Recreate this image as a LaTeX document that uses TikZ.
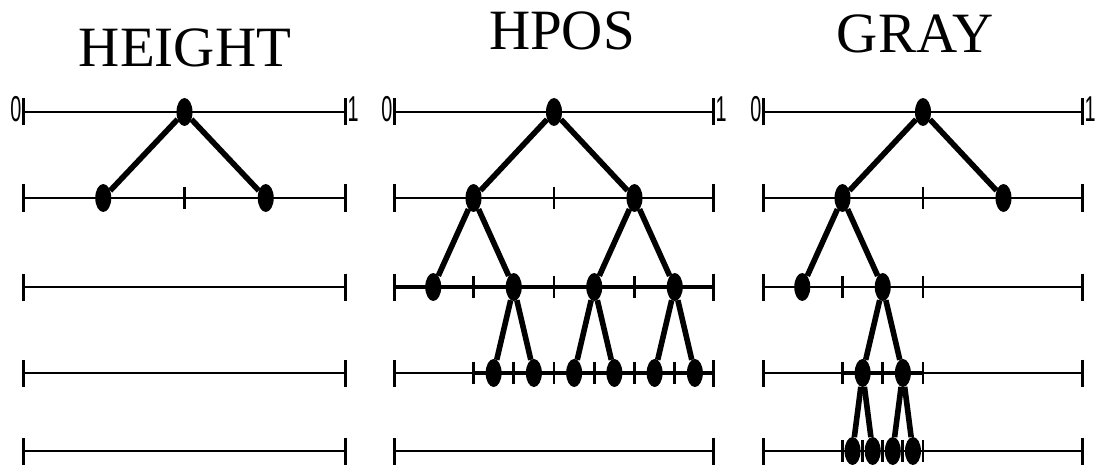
\documentclass[tikz,border=0pt]{standalone}
\usepackage{fontspec}
\setmainfont{Liberation Serif}
\newfontfamily\digitfont{Liberation Sans}
\usetikzlibrary{arrows.meta,shapes.geometric}

\tikzset{
  dot/.style={ellipse,fill=black,inner sep=0pt,minimum width=16pt,minimum height=28pt},
  branch/.style={line width=5.6pt},
  axisline/.style={line width=2.6pt,{Bar[width=27pt,line width=3.2pt]}-{Bar[width=27pt,line width=3.2pt]}},
  overlap/.style={line width=4.2pt},
  tick/.style={line width=2.8pt},
  title/.style={font=\fontsize{57}{60}\selectfont,anchor=base,inner sep=0pt},
  endlabel/.style={font=\digitfont\fontsize{36}{36}\selectfont,xscale=0.55,inner sep=1pt}
}

\begin{document}
\begin{tikzpicture}[x=1pt,y=-1pt]
  \useasboundingbox (0,0) rectangle (1101,468);
  \def\rA{112} \def\rB{198} \def\rC{287} \def\rD{373} \def\rE{451}

  % Height
  \node[title] (htitle) at (185,67) {HEIGHT};
  \begin{scope}[xshift=22pt,x=325pt]
    \foreach \r in {\rA,\rB,\rC,\rD,\rE} \draw[axisline] (0,\r) -- (1,\r);
    \node[endlabel,anchor=east] (hzero) at (0,109) {0};
    \node[endlabel,anchor=west] (hone) at (1,109) {1};
    \draw[tick] (0.5,\rB-11) -- (0.5,\rB+11);
    \node[dot] (hA) at (0.5,\rA) {};
    \node[dot] (hB) at (0.25,\rB) {};
    \node[dot] (hC) at (0.75,\rB) {};
    \draw[branch] (hA) -- (hB);
    \draw[branch] (hA) -- (hC);
  \end{scope}

  % Hpos
  \node[title] (ptitle) at (562,50) {HPOS};
  \begin{scope}[xshift=393pt,x=322pt]
    \foreach \r in {\rA,\rB,\rC,\rD,\rE} \draw[axisline] (0,\r) -- (1,\r);
    \draw[overlap] (0,\rC) -- (1,\rC);
    \draw[overlap] (0.25,\rD) -- (1,\rD);
    \node[endlabel,anchor=east] (pzero) at (0,109) {0};
    \node[endlabel,anchor=west] (pone) at (1,109) {1};
    \draw[tick] (0.5,\rB-11) -- (0.5,\rB+11);
    \foreach \t in {0.25,0.5,0.75} \draw[tick] (\t,\rC-11) -- (\t,\rC+11);
    \foreach \t in {0.25,0.375,0.5,0.625,0.75,0.875} \draw[tick] (\t,\rD-11) -- (\t,\rD+11);
    \node[dot] (pA) at (0.5,\rA) {};
    \node[dot] (pB) at (0.25,\rB) {};
    \node[dot] (pC) at (0.75,\rB) {};
    \node[dot] (pD) at (0.125,\rC) {};
    \node[dot] (pE) at (0.375,\rC) {};
    \node[dot] (pF) at (0.625,\rC) {};
    \node[dot] (pG) at (0.875,\rC) {};
    \node[dot] (pH) at (0.3125,\rD) {};
    \node[dot] (pI) at (0.4375,\rD) {};
    \node[dot] (pJ) at (0.5625,\rD) {};
    \node[dot] (pK) at (0.6875,\rD) {};
    \node[dot] (pL) at (0.8125,\rD) {};
    \node[dot] (pM) at (0.9375,\rD) {};
    \draw[branch] (pA) -- (pB);
    \draw[branch] (pA) -- (pC);
    \draw[branch] (pB) -- (pD);
    \draw[branch] (pB) -- (pE);
    \draw[branch] (pC) -- (pF);
    \draw[branch] (pC) -- (pG);
    \draw[branch] (pE) -- (pH);
    \draw[branch] (pE) -- (pI);
    \draw[branch] (pF) -- (pJ);
    \draw[branch] (pF) -- (pK);
    \draw[branch] (pG) -- (pL);
    \draw[branch] (pG) -- (pM);
  \end{scope}

  % Gray
  \node[title] (gtitle) at (915,53) {GRAY};
  \begin{scope}[xshift=762pt,x=322pt]
    \foreach \r in {\rA,\rB,\rC,\rD,\rE} \draw[axisline] (0,\r) -- (1,\r);
    \draw[overlap] (0.25,\rD) -- (0.5,\rD);
    \node[endlabel,anchor=east] (gzero) at (0,109) {0};
    \node[endlabel,anchor=west] (gone) at (1,109) {1};
    \draw[tick] (0.5,\rB-11) -- (0.5,\rB+11);
    \foreach \t in {0.25,0.5} \draw[tick] (\t,\rC-11) -- (\t,\rC+11);
    \foreach \t in {0.25,0.375,0.5} \draw[tick] (\t,\rD-11) -- (\t,\rD+11);
    \foreach \t in {0.25,0.3125,0.375,0.4375,0.5} \draw[tick] (\t,\rE-11) -- (\t,\rE+11);
    \node[dot] (gA) at (0.5,\rA) {};
    \node[dot] (gB) at (0.25,\rB) {};
    \node[dot] (gC) at (0.75,\rB) {};
    \node[dot] (gD) at (0.125,\rC) {};
    \node[dot] (gE) at (0.375,\rC) {};
    \node[dot] (gF) at (0.3125,\rD) {};
    \node[dot] (gG) at (0.4375,\rD) {};
    \node[dot] (gH) at (0.28125,\rE) {};
    \node[dot] (gI) at (0.34375,\rE) {};
    \node[dot] (gJ) at (0.40625,\rE) {};
    \node[dot] (gK) at (0.46875,\rE) {};
    \draw[branch] (gA) -- (gB);
    \draw[branch] (gA) -- (gC);
    \draw[branch] (gB) -- (gD);
    \draw[branch] (gB) -- (gE);
    \draw[branch] (gE) -- (gF);
    \draw[branch] (gE) -- (gG);
    \draw[branch] (gF) -- (gH);
    \draw[branch] (gF) -- (gI);
    \draw[branch] (gG) -- (gJ);
    \draw[branch] (gG) -- (gK);
  \end{scope}
\end{tikzpicture}
\end{document}
